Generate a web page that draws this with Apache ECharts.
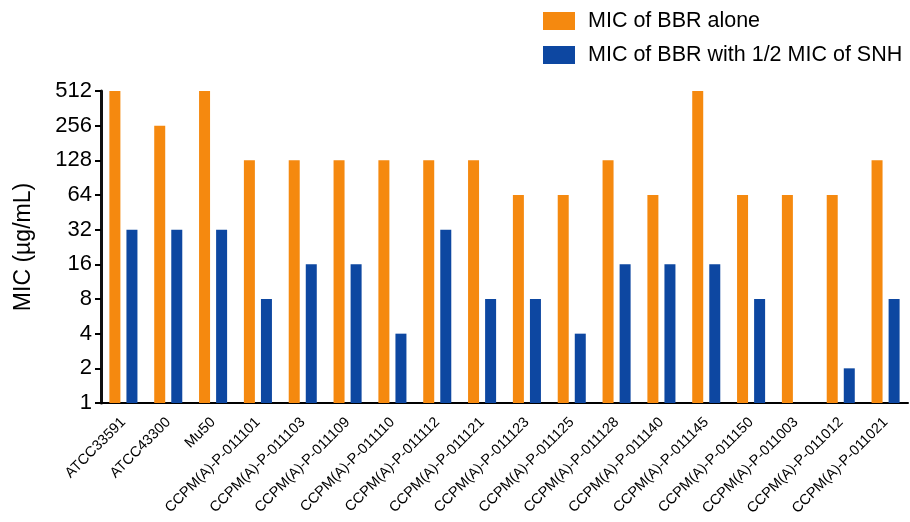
<!DOCTYPE html>
<html>
<head>
<meta charset="utf-8">
<script src="https://cdn.jsdelivr.net/npm/echarts@6/dist/echarts.min.js"></script>
<style>
  html, body { margin: 0; padding: 0; background: #fff; }
  #mic_chart { width: 910px; height: 522px; }
</style>
</head>
<body>
<div id="mic_chart"></div>
<script>
// 菌株名称
var strain_list = ['ATCC33591', 'ATCC43300', 'Mu50', 'CCPM(A)-P-011101', 'CCPM(A)-P-011103',
  'CCPM(A)-P-011109', 'CCPM(A)-P-011110', 'CCPM(A)-P-011112', 'CCPM(A)-P-011121',
  'CCPM(A)-P-011123', 'CCPM(A)-P-011125', 'CCPM(A)-P-011128', 'CCPM(A)-P-011140',
  'CCPM(A)-P-011145', 'CCPM(A)-P-011150', 'CCPM(A)-P-011003', 'CCPM(A)-P-011012',
  'CCPM(A)-P-011021'];
var bbr_alone = [512, 256, 512, 128, 128, 128, 128, 128, 128, 64, 64, 128, 64, 512, 64, 64, 64, 128];
var bbr_with_snh = [32, 32, 32, 8, 16, 16, 4, 32, 8, 8, 4, 16, 16, 16, 8, 1, 2, 8];
var series_names = ['MIC of BBR alone', 'MIC of BBR with 1/2 MIC of SNH'];
var y_ticks = [1, 2, 4, 8, 16, 32, 64, 128, 256, 512];

var myChart = echarts.init(document.getElementById('mic_chart'));
var font = 'Liberation Sans, Arial, Helvetica, sans-serif';

var option = {
  animation: false,
  textStyle: { fontFamily: font },
  legend: {
    data: series_names,
    orient: 'vertical',
    left: 538,
    top: 5,
    itemWidth: 32,
    itemHeight: 18,
    itemGap: 12,
    icon: 'rect',
    textStyle: { fontSize: 21.5, color: '#000', fontFamily: font, padding: [0, 0, 0, 8] }
  },
  // grid 不能超出画布，否则 y 轴线不显示
  grid: {
    left: 101,
    top: 91,
    right: 2,
    bottom: 119,
    outerBoundsMode: 'none'
  },
  xAxis: {
    type: 'category',
    data: strain_list,
    axisLine: { onZero: false, lineStyle: { color: '#000', width: 2 } },
    axisTick: { alignWithLabel: true, length: 6, lineStyle: { color: '#000', width: 2 } },
    axisLabel: {
      interval: 0,
      rotate: 45,
      margin: 17,
      fontSize: 14.5,
      color: '#000',
      fontFamily: font
    }
  },
  yAxis: {
    type: 'log',
    position: 'left',
    logBase: 2,
    min: y_ticks[0],
    max: y_ticks[y_ticks.length - 1],
    splitNumber: 9,
    name: 'MIC (µg/mL)',
    nameLocation: 'middle',
    nameRotate: 90,
    nameGap: 66,
    nameTextStyle: { fontSize: 23, color: '#000', fontFamily: font },
    splitLine: { show: false },
    axisLine: { show: true, onZero: false, lineStyle: { color: '#111', width: 3 } },
    axisTick: { show: true, length: 6, lineStyle: { color: '#000', width: 2 } },
    axisLabel: {
      fontSize: 22,
      color: '#000',
      margin: 9,
      fontFamily: font,
      formatter: function (v) { return String(Math.round(v)); }
    }
  },
  series: [{
    name: series_names[0],
    type: 'bar',
    data: bbr_alone,
    barWidth: 11,
    barGap: '55%',
    itemStyle: { color: '#F5890F' }
  }, {
    name: series_names[1],
    type: 'bar',
    data: bbr_with_snh,
    barWidth: 11,
    itemStyle: { color: '#0D47A1' }
  }]
};
myChart.setOption(option);
</script>
</body>
</html>
